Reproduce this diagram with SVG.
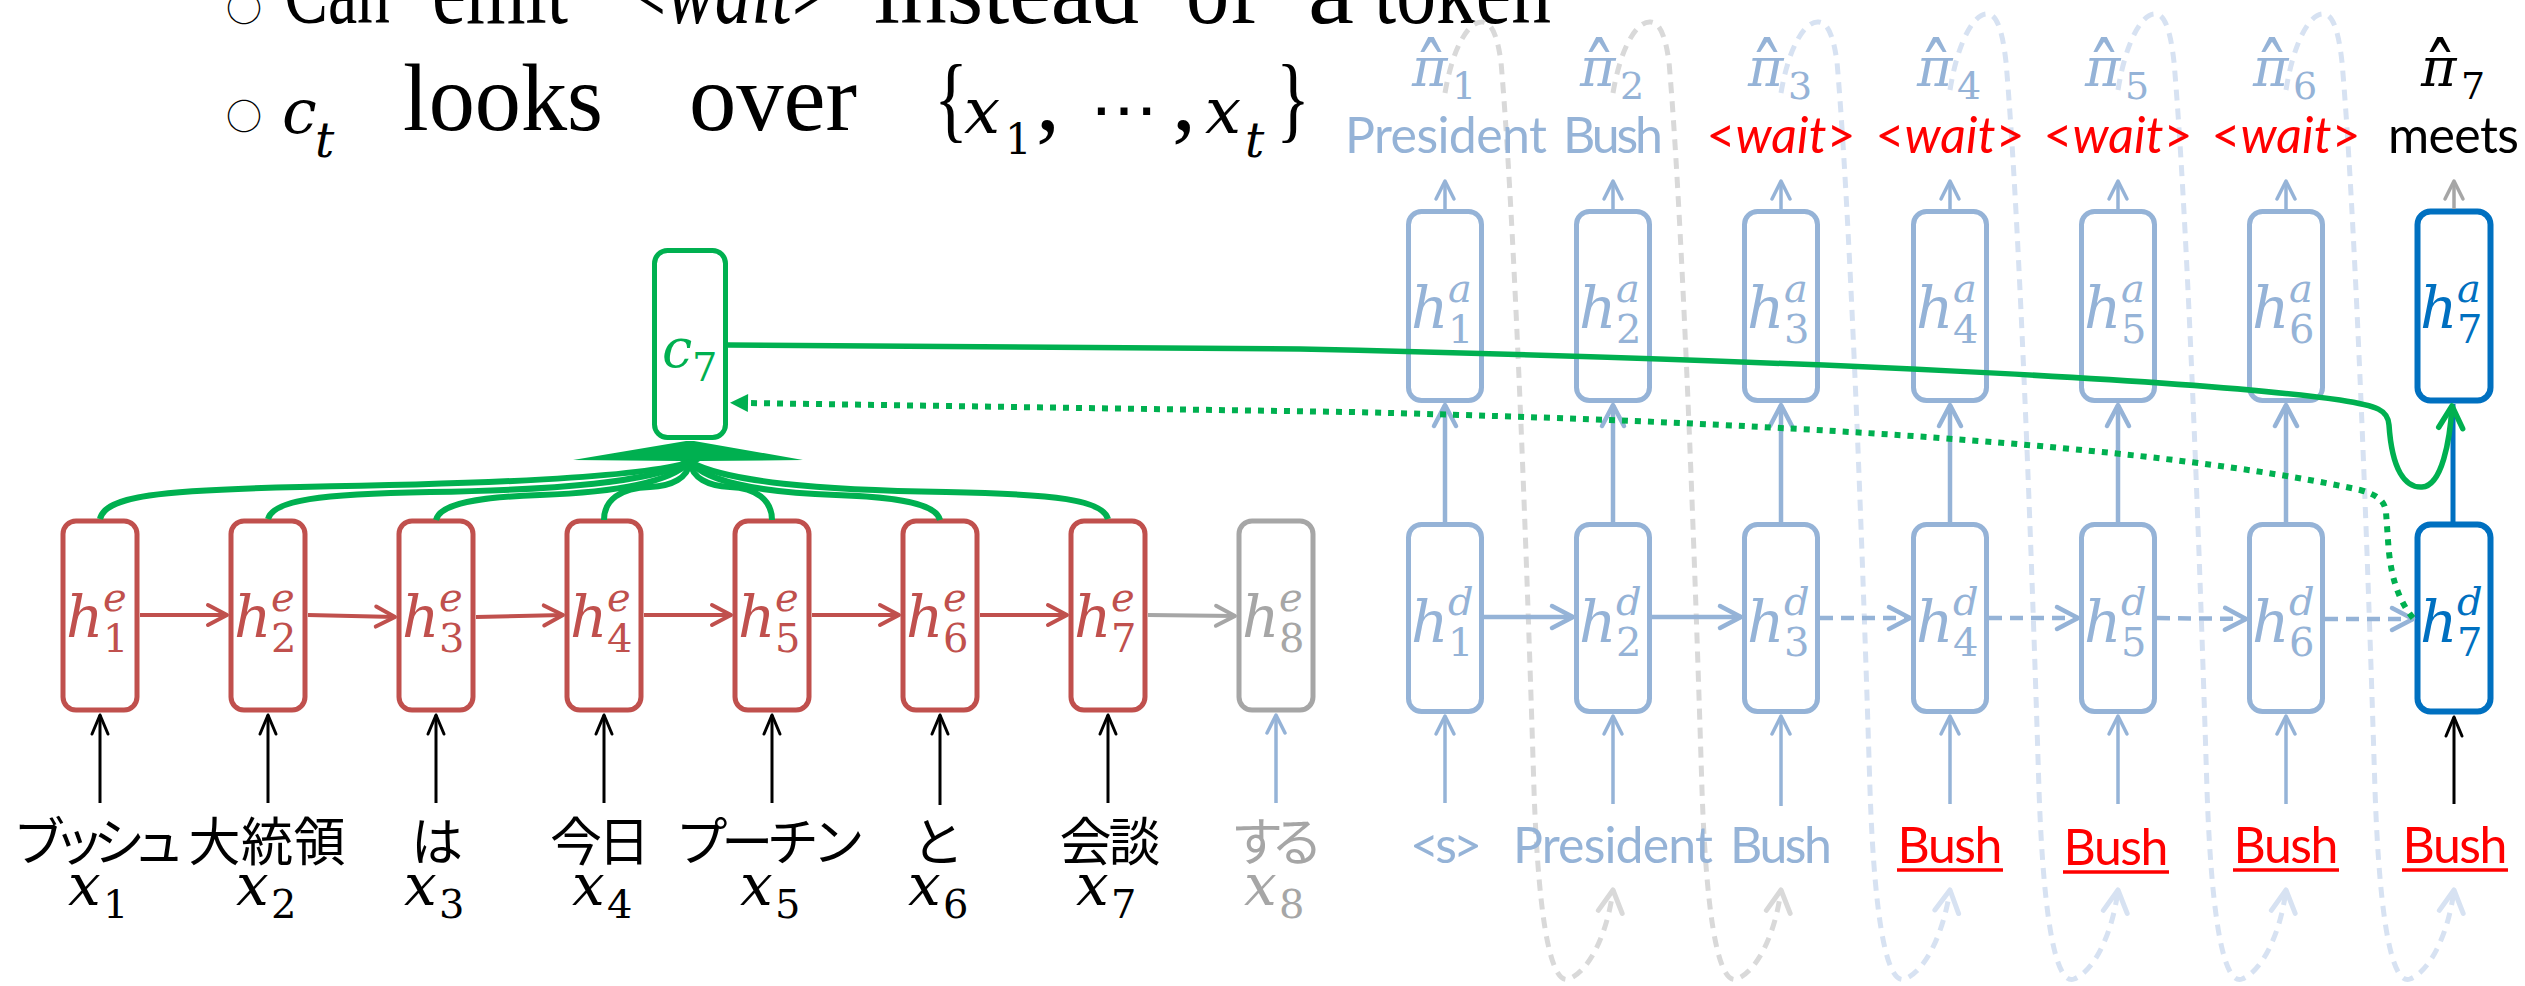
<svg xmlns="http://www.w3.org/2000/svg" width="2525" height="986" viewBox="0 0 2525 986">
  <style>
    .ttl { font-family: "Liberation Serif", serif; font-size: 96px; fill: #000; }
    .bul { font-family: "Noto Sans CJK JP", sans-serif; font-size: 36px; fill: #000; }
    .mi { font-family: "DejaVu Serif", serif; font-style: italic; }
    .mn { font-family: "DejaVu Serif", serif; }
    .cal { font-family: Lato, "Open Sans", sans-serif; font-size: 50px; }
    .jp { font-family: "Noto Sans CJK JP", sans-serif; font-size: 52px; text-anchor: middle; }
    .enc rect { fill: #fff; stroke: #c0504d; stroke-width: 5; }
    .enc text { fill: #c0504d; }
    .enc8 rect { fill: #fff; stroke: #a6a6a6; stroke-width: 5; }
    .enc8 text { fill: #a6a6a6; }
    .dec rect { fill: #fff; stroke: #95b3d7; stroke-width: 5; }
    .dec text { fill: #95b3d7; }
    .cur rect { fill: #fff; stroke: #0070c0; stroke-width: 6; }
    .cur text { fill: #0070c0; }
    .ctx rect { fill: #fff; stroke: #00b050; stroke-width: 5; }
    .ctx text { fill: #00b050; }
    .big { font-size: 58px; }
    .scr { font-size: 40px; }
    .pi { font-size: 54px; }
    .hat { font-size: 80px; }
    .psub { font-size: 38px; }
    .ea { stroke: #c0504d; stroke-width: 4; fill: none; marker-end: url(#ah-red); }
    .ga { stroke: #a6a6a6; stroke-width: 4; fill: none; marker-end: url(#ah-gray); }
    .da { stroke: #95b3d7; stroke-width: 4.5; fill: none; marker-end: url(#ah-blue); }
    .dd { stroke-dasharray: 13 8; }
    .ia { stroke: #000; stroke-width: 3; fill: none; marker-end: url(#ah-black); }
    .ib { stroke: #95b3d7; stroke-width: 3.5; fill: none; marker-end: url(#ah-blue-s); }
    .oa { stroke: #95b3d7; stroke-width: 3.5; fill: none; marker-end: url(#ah-blue-s); }
    .og { stroke: #a6a6a6; stroke-width: 3.5; fill: none; marker-end: url(#ah-gray-s); }
    .fan { stroke: #00b050; stroke-width: 6; fill: none; }
    .lg { stroke: #d9d9d9; stroke-width: 5; fill: none; stroke-dasharray: 11 8; marker-end: url(#ah-loop-gray); }
    .lb { stroke: #d7e2f2; stroke-width: 5; fill: none; stroke-dasharray: 11 8; marker-end: url(#ah-loop-blue); }
  </style>
  <defs>
    <marker id="ah-red" viewBox="-24 -14 28 28" refX="0" refY="0" markerWidth="28" markerHeight="28" markerUnits="userSpaceOnUse" orient="auto" overflow="visible">
      <path d="M-19,-10 L0,0 L-19,10" fill="none" stroke="#c0504d" stroke-width="4" stroke-linecap="round" stroke-linejoin="round"/>
    </marker>
    <marker id="ah-gray" viewBox="-24 -14 28 28" refX="0" refY="0" markerWidth="28" markerHeight="28" markerUnits="userSpaceOnUse" orient="auto" overflow="visible">
      <path d="M-19,-10 L0,0 L-19,10" fill="none" stroke="#a6a6a6" stroke-width="4" stroke-linecap="round" stroke-linejoin="round"/>
    </marker>
    <marker id="ah-blue" viewBox="-24 -14 28 28" refX="0" refY="0" markerWidth="28" markerHeight="28" markerUnits="userSpaceOnUse" orient="auto" overflow="visible">
      <path d="M-21,-11 L0,0 L-21,11" fill="none" stroke="#95b3d7" stroke-width="4.5" stroke-linecap="round" stroke-linejoin="round"/>
    </marker>
    <marker id="ah-blue-s" viewBox="-24 -14 28 28" refX="0" refY="0" markerWidth="28" markerHeight="28" markerUnits="userSpaceOnUse" orient="auto" overflow="visible">
      <path d="M-18,-9 L0,0 L-18,9" fill="none" stroke="#95b3d7" stroke-width="3.5" stroke-linecap="round" stroke-linejoin="round"/>
    </marker>
    <marker id="ah-gray-s" viewBox="-24 -14 28 28" refX="0" refY="0" markerWidth="28" markerHeight="28" markerUnits="userSpaceOnUse" orient="auto" overflow="visible">
      <path d="M-18,-9 L0,0 L-18,9" fill="none" stroke="#a6a6a6" stroke-width="3.5" stroke-linecap="round" stroke-linejoin="round"/>
    </marker>
    <marker id="ah-black" viewBox="-24 -14 28 28" refX="0" refY="0" markerWidth="28" markerHeight="28" markerUnits="userSpaceOnUse" orient="auto" overflow="visible">
      <path d="M-19,-8 L0,0 L-19,8" fill="none" stroke="#000" stroke-width="3" stroke-linecap="round" stroke-linejoin="round"/>
    </marker>
    <marker id="ah-green" viewBox="-24 -14 28 28" refX="0" refY="0" markerWidth="28" markerHeight="28" markerUnits="userSpaceOnUse" orient="auto" overflow="visible">
      <path d="M-22,-12 L0,0 L-22,12" fill="none" stroke="#00b050" stroke-width="5.5" stroke-linecap="round" stroke-linejoin="round"/>
    </marker>
    <marker id="ah-green-fill" viewBox="-2 -12 24 24" refX="0" refY="0" markerWidth="24" markerHeight="24" markerUnits="userSpaceOnUse" orient="auto" overflow="visible">
      <path d="M0,-9 L18,0 L0,9 Z" fill="#00b050"/>
    </marker>
    <marker id="ah-loop-gray" viewBox="-26 -15 30 30" refX="0" refY="0" markerWidth="30" markerHeight="30" markerUnits="userSpaceOnUse" orient="auto" overflow="visible">
      <path d="M-22,-12 L0,0 L-22,12" fill="none" stroke="#d9d9d9" stroke-width="5" stroke-linecap="round" stroke-linejoin="round"/>
    </marker>
    <marker id="ah-loop-blue" viewBox="-26 -15 30 30" refX="0" refY="0" markerWidth="30" markerHeight="30" markerUnits="userSpaceOnUse" orient="auto" overflow="visible">
      <path d="M-22,-12 L0,0 L-22,12" fill="none" stroke="#d7e2f2" stroke-width="5" stroke-linecap="round" stroke-linejoin="round"/>
    </marker>
  </defs>

  <rect width="2525" height="986" fill="#fff"/>

  <!-- bullet lines -->
  <g id="title">
    <text class="bul" x="226" y="22">○</text>
    <text class="ttl" x="284" y="23" textLength="106" lengthAdjust="spacingAndGlyphs">Can</text>
    <text class="ttl" x="432" y="23" textLength="136" lengthAdjust="spacingAndGlyphs">emit</text>
    <text class="ttl" x="625" y="23" textLength="208" lengthAdjust="spacingAndGlyphs">&lt;<tspan font-style="italic">wait</tspan>&gt;</text>
    <text class="ttl" x="874" y="23" textLength="265" lengthAdjust="spacingAndGlyphs">instead</text>
    <text class="ttl" x="1186" y="23" textLength="72" lengthAdjust="spacingAndGlyphs">of</text>
    <text class="ttl" x="1308" y="23" textLength="46" lengthAdjust="spacingAndGlyphs">a</text>
    <text class="ttl" x="1374" y="23" textLength="177" lengthAdjust="spacingAndGlyphs">token</text>

    <text class="bul" x="226" y="130">○</text>
    <text class="mi" x="282" y="133" font-size="62">c</text>
    <text class="mi" x="315" y="157" font-size="48">t</text>
    <text class="ttl" x="403" y="130" textLength="200" lengthAdjust="spacingAndGlyphs">looks</text>
    <text class="ttl" x="689" y="130" textLength="168" lengthAdjust="spacingAndGlyphs">over</text>
    <text class="ttl" x="934" y="130" textLength="34" lengthAdjust="spacingAndGlyphs">{</text>
    <text class="mi" x="964" y="133" font-size="64">x</text>
    <text class="mn" x="1005" y="154" font-size="42">1</text>
    <text class="ttl" x="1036" y="130">,</text>
    <text x="1090" y="130" font-family="DejaVu Sans, sans-serif" font-size="60" textLength="68" lengthAdjust="spacingAndGlyphs">⋯</text>
    <text class="ttl" x="1172" y="130">,</text>
    <text class="mi" x="1205" y="133" font-size="64">x</text>
    <text class="mi" x="1245" y="157" font-size="48">t</text>
    <text class="ttl" x="1276" y="130" textLength="34" lengthAdjust="spacingAndGlyphs">}</text>
  </g>

  <!-- output feedback loops (behind everything) -->
  <g id="feedback-loops">
    <path class="lg" d="M1445,93 C1453,45 1470,20 1483,22 C1493,23 1498,40 1501,62 C1513,200 1525,500 1534,790 C1539,935 1553,985 1569,979 C1591,970 1608,930 1613,890"/>
    <path class="lg" d="M1613,93 C1621,45 1638,20 1651,22 C1661,23 1666,40 1669,62 C1681,200 1693,500 1702,790 C1707,935 1721,985 1737,979 C1759,970 1776,930 1781,890"/>
    <path class="lb" d="M1781,93 C1789,45 1806,20 1819,22 C1829,23 1834,40 1837,62 C1849,200 1861,500 1870,790 C1875,935 1889,985 1905,979 C1927,970 1944,930 1950,890"/>
    <path class="lb" d="M1950,90 C1958,40 1975,12 1988,14 C1998,15 2003,35 2006,62 C2018,200 2030,500 2039,790 C2044,935 2058,985 2074,979 C2096,970 2113,930 2118,890"/>
    <path class="lb" d="M2118,90 C2126,40 2143,12 2156,14 C2166,15 2171,35 2174,62 C2186,200 2198,500 2207,790 C2212,935 2226,985 2242,979 C2264,970 2281,930 2286,890"/>
    <path class="lb" d="M2286,90 C2294,40 2311,12 2324,14 C2334,15 2339,35 2342,62 C2354,200 2366,500 2375,790 C2380,935 2394,985 2410,979 C2432,970 2449,930 2454,890"/>
  </g>

  <!-- encoder states -->
  <g id="enc1" class="enc"><rect x="63" y="521" width="74" height="189" rx="13"/><text class="mi big" x="66" y="637">h</text><text class="mi scr" x="103" y="611">e</text><text class="mn scr" x="103" y="652">1</text></g>
  <g id="enc2" class="enc"><rect x="231" y="521" width="74" height="189" rx="13"/><text class="mi big" x="234" y="637">h</text><text class="mi scr" x="271" y="611">e</text><text class="mn scr" x="271" y="652">2</text></g>
  <g id="enc3" class="enc"><rect x="399" y="521" width="74" height="189" rx="13"/><text class="mi big" x="402" y="637">h</text><text class="mi scr" x="439" y="611">e</text><text class="mn scr" x="439" y="652">3</text></g>
  <g id="enc4" class="enc"><rect x="567" y="521" width="74" height="189" rx="13"/><text class="mi big" x="570" y="637">h</text><text class="mi scr" x="607" y="611">e</text><text class="mn scr" x="607" y="652">4</text></g>
  <g id="enc5" class="enc"><rect x="735" y="521" width="74" height="189" rx="13"/><text class="mi big" x="738" y="637">h</text><text class="mi scr" x="775" y="611">e</text><text class="mn scr" x="775" y="652">5</text></g>
  <g id="enc6" class="enc"><rect x="903" y="521" width="74" height="189" rx="13"/><text class="mi big" x="906" y="637">h</text><text class="mi scr" x="943" y="611">e</text><text class="mn scr" x="943" y="652">6</text></g>
  <g id="enc7" class="enc"><rect x="1071" y="521" width="74" height="189" rx="13"/><text class="mi big" x="1074" y="637">h</text><text class="mi scr" x="1111" y="611">e</text><text class="mn scr" x="1111" y="652">7</text></g>
  <g id="enc8" class="enc8"><rect x="1239" y="521" width="74" height="189" rx="13"/><text class="mi big" x="1242" y="637">h</text><text class="mi scr" x="1279" y="611">e</text><text class="mn scr" x="1279" y="652">8</text></g>

  <!-- context vector -->
  <g id="ctx" class="ctx"><rect x="654.5" y="250.5" width="71" height="187" rx="13"/><text class="mi" x="662" y="367" font-size="54">c</text><text class="mn" x="692" y="381" font-size="40">7</text></g>

  <!-- source words -->
  <g id="src-words">
    <text class="jp" x="99" y="861" textLength="172">ブッシュ</text>
    <text class="jp" x="267" y="861" textLength="157">大統領</text>
    <text class="jp" x="437" y="861">は</text>
    <text class="jp" x="600" y="861" textLength="100">今日</text>
    <text class="jp" x="770" y="861" textLength="189">プーチン</text>
    <text class="jp" x="938" y="861">と</text>
    <text class="jp" x="1110" y="861" textLength="101">会談</text>
    <text class="jp" x="1277" y="861" textLength="92" fill="#a6a6a6">する</text>
    <text class="mi big" x="68" y="905">x</text><text class="mn scr" x="103" y="918">1</text>
    <text class="mi big" x="236" y="905">x</text><text class="mn scr" x="271" y="918">2</text>
    <text class="mi big" x="404" y="905">x</text><text class="mn scr" x="439" y="918">3</text>
    <text class="mi big" x="572" y="905">x</text><text class="mn scr" x="607" y="918">4</text>
    <text class="mi big" x="740" y="905">x</text><text class="mn scr" x="775" y="918">5</text>
    <text class="mi big" x="908" y="905">x</text><text class="mn scr" x="943" y="918">6</text>
    <text class="mi big" x="1076" y="905">x</text><text class="mn scr" x="1111" y="918">7</text>
    <g fill="#a6a6a6"><text class="mi big" x="1244" y="905">x</text><text class="mn scr" x="1279" y="918">8</text></g>
  </g>

  <!-- decoder states -->
  <g id="att1" class="dec"><rect x="1408.5" y="211.5" width="73" height="189" rx="13"/><text class="mi big" x="1411" y="328">h</text><text class="mi scr" x="1448" y="302">a</text><text class="mn scr" x="1448" y="343">1</text></g>
  <g id="att2" class="dec"><rect x="1576.5" y="211.5" width="73" height="189" rx="13"/><text class="mi big" x="1579" y="328">h</text><text class="mi scr" x="1616" y="302">a</text><text class="mn scr" x="1616" y="343">2</text></g>
  <g id="att3" class="dec"><rect x="1744.5" y="211.5" width="73" height="189" rx="13"/><text class="mi big" x="1747" y="328">h</text><text class="mi scr" x="1784" y="302">a</text><text class="mn scr" x="1784" y="343">3</text></g>
  <g id="att4" class="dec"><rect x="1913.5" y="211.5" width="73" height="189" rx="13"/><text class="mi big" x="1916" y="328">h</text><text class="mi scr" x="1953" y="302">a</text><text class="mn scr" x="1953" y="343">4</text></g>
  <g id="att5" class="dec"><rect x="2081.5" y="211.5" width="73" height="189" rx="13"/><text class="mi big" x="2084" y="328">h</text><text class="mi scr" x="2121" y="302">a</text><text class="mn scr" x="2121" y="343">5</text></g>
  <g id="att6" class="dec"><rect x="2249.5" y="211.5" width="73" height="189" rx="13"/><text class="mi big" x="2252" y="328">h</text><text class="mi scr" x="2289" y="302">a</text><text class="mn scr" x="2289" y="343">6</text></g>
  <g id="att7" class="cur"><rect x="2417.5" y="211.5" width="73" height="189" rx="13"/><text class="mi big" x="2420" y="328">h</text><text class="mi scr" x="2457" y="302">a</text><text class="mn scr" x="2457" y="343">7</text></g>

  <g id="dec1" class="dec"><rect x="1408.5" y="524.5" width="73" height="187" rx="13"/><text class="mi big" x="1411" y="642">h</text><text class="mi scr" x="1448" y="615">d</text><text class="mn scr" x="1448" y="656">1</text></g>
  <g id="dec2" class="dec"><rect x="1576.5" y="524.5" width="73" height="187" rx="13"/><text class="mi big" x="1579" y="642">h</text><text class="mi scr" x="1616" y="615">d</text><text class="mn scr" x="1616" y="656">2</text></g>
  <g id="dec3" class="dec"><rect x="1744.5" y="524.5" width="73" height="187" rx="13"/><text class="mi big" x="1747" y="642">h</text><text class="mi scr" x="1784" y="615">d</text><text class="mn scr" x="1784" y="656">3</text></g>
  <g id="dec4" class="dec"><rect x="1913.5" y="524.5" width="73" height="187" rx="13"/><text class="mi big" x="1916" y="642">h</text><text class="mi scr" x="1953" y="615">d</text><text class="mn scr" x="1953" y="656">4</text></g>
  <g id="dec5" class="dec"><rect x="2081.5" y="524.5" width="73" height="187" rx="13"/><text class="mi big" x="2084" y="642">h</text><text class="mi scr" x="2121" y="615">d</text><text class="mn scr" x="2121" y="656">5</text></g>
  <g id="dec6" class="dec"><rect x="2249.5" y="524.5" width="73" height="187" rx="13"/><text class="mi big" x="2252" y="642">h</text><text class="mi scr" x="2289" y="615">d</text><text class="mn scr" x="2289" y="656">6</text></g>
  <g id="dec7" class="cur"><rect x="2417.5" y="524.5" width="73" height="187" rx="13"/><text class="mi big" x="2420" y="642">h</text><text class="mi scr" x="2457" y="615">d</text><text class="mn scr" x="2457" y="656">7</text></g>

  <!-- predicted outputs -->
  <g id="outputs">
    <g fill="#95b3d7">
      <text class="mi pi" x="1412" y="86">π</text><text class="mn hat" x="1414" y="102" textLength="34" lengthAdjust="spacingAndGlyphs">ˆ</text><text class="mn psub" x="1452" y="99">1</text>
      <text class="mi pi" x="1580" y="86">π</text><text class="mn hat" x="1582" y="102" textLength="34" lengthAdjust="spacingAndGlyphs">ˆ</text><text class="mn psub" x="1620" y="99">2</text>
      <text class="mi pi" x="1748" y="86">π</text><text class="mn hat" x="1750" y="102" textLength="34" lengthAdjust="spacingAndGlyphs">ˆ</text><text class="mn psub" x="1788" y="99">3</text>
      <text class="mi pi" x="1917" y="86">π</text><text class="mn hat" x="1919" y="102" textLength="34" lengthAdjust="spacingAndGlyphs">ˆ</text><text class="mn psub" x="1957" y="99">4</text>
      <text class="mi pi" x="2085" y="86">π</text><text class="mn hat" x="2087" y="102" textLength="34" lengthAdjust="spacingAndGlyphs">ˆ</text><text class="mn psub" x="2125" y="99">5</text>
      <text class="mi pi" x="2253" y="86">π</text><text class="mn hat" x="2255" y="102" textLength="34" lengthAdjust="spacingAndGlyphs">ˆ</text><text class="mn psub" x="2293" y="99">6</text>
      <text class="cal" x="1345" y="153" textLength="202">President</text>
      <text class="cal" x="1563" y="153" textLength="100">Bush</text>
    </g>
    <g fill="#000">
      <text class="mi pi" x="2421" y="86">π</text><text class="mn hat" x="2423" y="102" textLength="34" lengthAdjust="spacingAndGlyphs">ˆ</text><text class="mn psub" x="2461" y="99">7</text>
      <text class="cal" x="2388" y="153" textLength="131">meets</text>
    </g>
    <g fill="#ff0000" text-anchor="middle">
      <text class="cal" x="1781" y="153" textLength="149">&lt;<tspan font-style="italic">wait</tspan>&gt;</text>
      <text class="cal" x="1950" y="153" textLength="149">&lt;<tspan font-style="italic">wait</tspan>&gt;</text>
      <text class="cal" x="2118" y="153" textLength="149">&lt;<tspan font-style="italic">wait</tspan>&gt;</text>
      <text class="cal" x="2286" y="153" textLength="149">&lt;<tspan font-style="italic">wait</tspan>&gt;</text>
    </g>
  </g>

  <!-- decoder inputs -->
  <g id="dec-inputs">
    <g fill="#95b3d7">
      <text class="cal" x="1410" y="863" textLength="72">&lt;s&gt;</text>
      <text class="cal" x="1513" y="863" textLength="200">President</text>
      <text class="cal" x="1730" y="863" textLength="102">Bush</text>
    </g>
    <g fill="#ff0000" text-anchor="middle">
      <text class="cal" x="1950" y="863" textLength="105">Bush</text>
      <text class="cal" x="2116" y="865" textLength="105">Bush</text>
      <text class="cal" x="2286" y="863" textLength="105">Bush</text>
      <text class="cal" x="2455" y="863" textLength="105">Bush</text>
    </g>
    <g stroke="#ff0000" stroke-width="3.5">
      <line x1="1897" y1="870" x2="2003" y2="870"/>
      <line x1="2063" y1="872" x2="2169" y2="872"/>
      <line x1="2233" y1="870" x2="2339" y2="870"/>
      <line x1="2402" y1="870" x2="2508" y2="870"/>
    </g>
  </g>

  <!-- connectors -->
  <g id="connectors">
    <!-- encoder recurrence -->
    <line class="ea" x1="140" y1="615" x2="227" y2="615"/>
    <line class="ea" x1="308" y1="615" x2="395" y2="617"/>
    <line class="ea" x1="476" y1="617" x2="563" y2="615"/>
    <line class="ea" x1="644" y1="615" x2="731" y2="615"/>
    <line class="ea" x1="812" y1="615" x2="899" y2="615"/>
    <line class="ea" x1="980" y1="615" x2="1067" y2="615"/>
    <line class="ga" x1="1148" y1="615" x2="1235" y2="616"/>

    <!-- source word inputs -->
    <line class="ia" x1="100" y1="803" x2="100" y2="715"/>
    <line class="ia" x1="268" y1="803" x2="268" y2="715"/>
    <line class="ia" x1="436" y1="803" x2="436" y2="715"/>
    <line class="ia" x1="604" y1="803" x2="604" y2="715"/>
    <line class="ia" x1="772" y1="803" x2="772" y2="715"/>
    <line class="ia" x1="940" y1="805" x2="940" y2="715"/>
    <line class="ia" x1="1108" y1="803" x2="1108" y2="715"/>
    <line class="ib" x1="1276" y1="803" x2="1276" y2="715" stroke="#a6a6a6" marker-end="url(#ah-gray-s)"/>

    <!-- attention fan into the context vector -->
    <polygon points="573,460 686,441 694,441 803,460 700,461 690,467 680,461" fill="#00b050"/>
    <path class="fan" d="M100,519 C105,496 160,490 300,487 C480,484 640,478 690,462"/>
    <path class="fan" d="M268,519 C273,500 320,494 430,492 C560,490 650,482 690,462"/>
    <path class="fan" d="M436,520 C440,503 480,497 540,495 C620,492 670,482 690,462"/>
    <path class="fan" d="M604,520 C604,500 620,488 650,487 C672,486 688,478 690,462"/>
    <path class="fan" d="M772,520 C772,500 756,488 730,487 C708,486 692,478 690,462"/>
    <path class="fan" d="M940,520 C936,503 896,497 836,495 C756,492 708,482 690,462"/>
    <path class="fan" d="M1108,519 C1103,500 1056,494 946,492 C816,490 728,482 690,462"/>

    <!-- decoder recurrence -->
    <line class="da" x1="1484" y1="617" x2="1573" y2="617"/>
    <line class="da" x1="1652" y1="617" x2="1741" y2="617"/>
    <line class="da dd" x1="1820" y1="618" x2="1910" y2="618"/>
    <line class="da dd" x1="1989" y1="618" x2="2078" y2="618"/>
    <line class="da dd" x1="2157" y1="618" x2="2246" y2="619"/>
    <line class="da dd" x1="2325" y1="619" x2="2413" y2="619"/>

    <!-- decoder to attentional states -->
    <line class="da" x1="1445" y1="522" x2="1445" y2="405"/>
    <line class="da" x1="1613" y1="522" x2="1613" y2="405"/>
    <line class="da" x1="1781" y1="522" x2="1781" y2="405"/>
    <line class="da" x1="1950" y1="522" x2="1950" y2="405"/>
    <line class="da" x1="2118" y1="522" x2="2118" y2="405"/>
    <line class="da" x1="2286" y1="522" x2="2286" y2="405"/>
    <line x1="2453" y1="522" x2="2453" y2="404" stroke="#0070c0" stroke-width="5"/>

    <!-- attentional states to outputs -->
    <line class="oa" x1="1445" y1="209" x2="1445" y2="181"/>
    <line class="oa" x1="1613" y1="209" x2="1613" y2="181"/>
    <line class="oa" x1="1781" y1="209" x2="1781" y2="181"/>
    <line class="oa" x1="1950" y1="209" x2="1950" y2="181"/>
    <line class="oa" x1="2118" y1="209" x2="2118" y2="181"/>
    <line class="oa" x1="2286" y1="209" x2="2286" y2="181"/>
    <line class="og" x1="2454" y1="209" x2="2454" y2="181"/>

    <!-- decoder inputs -->
    <line class="ib" x1="1445" y1="803" x2="1445" y2="716"/>
    <line class="ib" x1="1613" y1="804" x2="1613" y2="716"/>
    <line class="ib" x1="1781" y1="806" x2="1781" y2="716"/>
    <line class="ib" x1="1950" y1="804" x2="1950" y2="716"/>
    <line class="ib" x1="2118" y1="804" x2="2118" y2="716"/>
    <line class="ib" x1="2286" y1="804" x2="2286" y2="716"/>
    <line class="ia" x1="2454" y1="804" x2="2454" y2="717"/>

    <!-- query from the current decoder state back to the context -->
    <path d="M2413,618 C2398,600 2390,575 2388,540 L2386,512 C2385,500 2375,494 2360,490 C2200,455 1900,425 1350,412 L748,403" fill="none" stroke="#00b050" stroke-width="6" stroke-dasharray="6 7" marker-end="url(#ah-green-fill)"/>
    <!-- context feeding the attentional state -->
    <path d="M728,345 L1300,349 C1800,360 2200,380 2340,400 C2378,406 2388,410 2389,425 C2392,470 2405,488 2422,487 C2442,486 2450,440 2452,406" fill="none" stroke="#00b050" stroke-width="5.5" marker-end="url(#ah-green)"/>
  </g>
</svg>
